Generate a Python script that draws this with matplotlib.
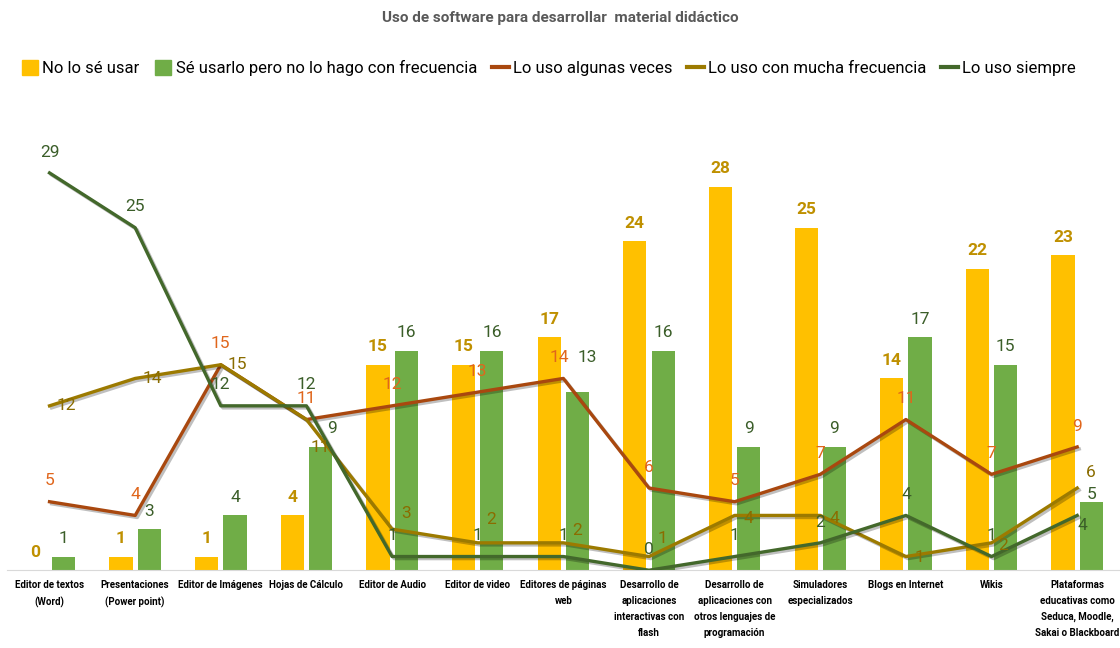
import matplotlib

matplotlib.use("Agg")
import matplotlib.pyplot as plt
import matplotlib.patheffects as pe
from matplotlib.lines import Line2D
from matplotlib.patches import Patch
import numpy as np

plt.rcParams["font.family"] = ["Roboto", "DejaVu Sans"]

CATEGORIES = [
    "Editor de textos\n(Word)",
    "Presentaciones\n(Power point)",
    "Editor de Imágenes",
    "Hojas de Cálculo",
    "Editor de Audio",
    "Editor de video",
    "Editores de páginas\nweb",
    "Desarrollo de\naplicaciones\ninteractivas con\nflash",
    "Desarrollo de\naplicaciones con\notros lenguajes de\nprogramación",
    "Simuladores\nespecializados",
    "Blogs en Internet",
    "Wikis",
    "Plataformas\neducativas como\nSeduca, Moodle,\nSakai o Blackboard",
]
NO_SE_USAR = [0, 1, 1, 4, 15, 15, 17, 24, 28, 25, 14, 22, 23]
SE_USARLO = [1, 3, 4, 9, 16, 16, 13, 16, 9, 9, 17, 15, 5]
ALGUNAS_VECES = [5, 4, 15, 11, 12, 13, 14, 6, 5, 7, 11, 7, 9]
MUCHA_FRECUENCIA = [12, 14, 15, 11, 3, 2, 2, 1, 4, 4, 1, 2, 6]
SIEMPRE = [29, 25, 12, 12, 1, 1, 1, 0, 1, 2, 4, 1, 4]

YELLOW = "#FFC000"
GREEN = "#70AD47"
RUST = "#A9480F"
GOLD = "#9C7A00"
DKGREEN = "#43682B"

# label nudges (points) where the original chart had them moved by hand
MUCHA_OFFSETS = [(12, 0), (12, 0), (12, 0), (10, -20), (10, 11), (10, 17), (10, 9),
                 (10, 13), (10, -2), (10, -2), (10, -1), (8, -2), (10, 11)]
SIEMPRE_OFFSETS = [(0, 15)] * 12 + [(4, -7)]
ALGUNAS_OFFSETS = [(0, 15)] * 13
ALGUNAS_OFFSETS[6] = (-3, 15)
SE_USARLO_OFFSETS = [(0, 13)] * 13
SE_USARLO_OFFSETS[3] = (8, 13)
SE_USARLO_OFFSETS[6] = (7, 25)
SE_USARLO_OFFSETS[12] = (0, 5)

fig = plt.figure(figsize=(11.2, 6.48), dpi=100)
ax = fig.add_axes([0.006, 0.12, 0.994, 0.74])

x = np.arange(len(CATEGORIES))
w = 0.27
ax.bar(x - 0.165, NO_SE_USAR, w, color=YELLOW, zorder=2)
ax.bar(x + 0.165, SE_USARLO, w, color=GREEN, zorder=2)

shadow = [pe.SimpleLineShadow(offset=(1.5, -1.5), alpha=0.25), pe.Normal()]
ax.plot(x, ALGUNAS_VECES, color=RUST, lw=2.4, zorder=3, path_effects=shadow)
ax.plot(x, MUCHA_FRECUENCIA, color=GOLD, lw=2.4, zorder=3, path_effects=shadow)
ax.plot(x, SIEMPRE, color=DKGREEN, lw=2.4, zorder=4, path_effects=shadow)

lab = dict(textcoords="offset points", ha="center", va="center", fontsize=12.5, zorder=6)
for xi, v in zip(x, NO_SE_USAR):
    ax.annotate(str(v), (xi - 0.165, v), xytext=(0, 13), fontweight="bold",
                color="#BF9000", **lab)
for xi, v, off in zip(x, SE_USARLO, SE_USARLO_OFFSETS):
    ax.annotate(str(v), (xi + 0.165, v), xytext=off, color="#3B5E29", **lab)
for xi, v, off in zip(x, ALGUNAS_VECES, ALGUNAS_OFFSETS):
    ax.annotate(str(v), (xi, v), xytext=off, color="#E0661C", **lab)
for xi, v, off in zip(x, MUCHA_FRECUENCIA, MUCHA_OFFSETS):
    ax.annotate(str(v), (xi, v), xytext=off, color="#8A6C00", **lab)
for xi, v, off in zip(x, SIEMPRE, SIEMPRE_OFFSETS):
    ax.annotate(str(v), (xi, v), xytext=off, color="#3B5E29", **lab)

ax.set_xlim(-0.5, len(CATEGORIES) - 0.5)
ax.set_ylim(0, 35)
ax.set_xticks(x)
ax.set_xticklabels(CATEGORIES, fontsize=7, fontweight="bold", linespacing=1.75)
ax.tick_params(axis="x", length=0, pad=7)
ax.set_yticks([])
for s in ["top", "right", "left"]:
    ax.spines[s].set_visible(False)
ax.spines["bottom"].set_color("#D9D9D9")

fig.text(0.5, 0.972, "Uso de software para desarrollar  material didáctico",
         ha="center", va="center", fontsize=11, fontweight="bold", color="#595959")

handles = [
    Patch(color=YELLOW, label="No lo sé usar"),
    Patch(color=GREEN, label="Sé usarlo pero no lo hago con frecuencia"),
    Line2D([], [], color=RUST, lw=3, label="Lo uso algunas veces"),
    Line2D([], [], color=GOLD, lw=3, label="Lo uso con mucha frecuencia"),
    Line2D([], [], color=DKGREEN, lw=3, label="Lo uso siempre"),
]
fig.legend(handles=handles, loc="center", bbox_to_anchor=(0.49, 0.895), ncol=5,
           frameon=False, fontsize=12, handlelength=1.0, handleheight=1.0,
           handletextpad=0.25, columnspacing=0.9)

fig.savefig("out.png", dpi=100)
